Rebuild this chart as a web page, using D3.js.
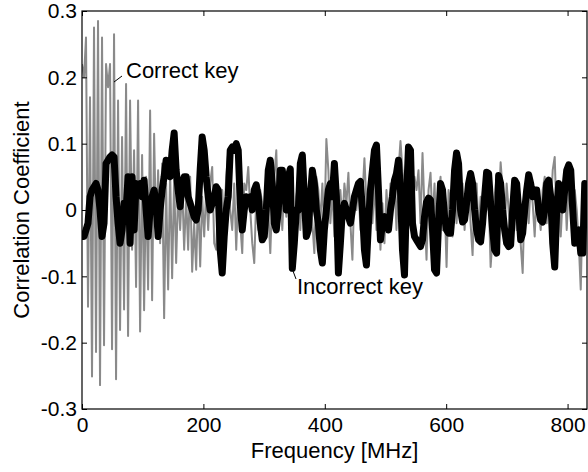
<!DOCTYPE html>
<html>
<head>
<meta charset="utf-8">
<script src="https://cdn.jsdelivr.net/npm/d3@7"></script>
<style>
body { margin:0 ; background:#fff ; }
svg text { font-family: "Liberation Sans", Arial, Helvetica, sans-serif ; fill:#000 ; }
</style>
</head>
<body>
<svg id="chart" width="588" height="472"></svg>
<script>

// sampling grid of the spectrum, in MHz
const freqStep = 3.3 ;

const xTicks = [ 0, 200, 400, 600, 800 ] ;
const yTicks = [ -0.3, -0.2, -0.1, 0, 0.1, 0.2, 0.3 ] ;
const yTickLabels = [ "-0.3", "-0.2", "-0.1", "0", "0.1", "0.2", "0.3" ] ;

// gray trace
const correctKey = [
	0.22, 0.20, 0.26, -0.146, 0.17, -0.251, 0.275, -0.214, 0.285, -0.264,
	0.26, -0.204, 0.22, 0.185, 0.22, -0.21, 0.265, -0.255, 0.165, -0.181,
	0.11, -0.15, 0.19, -0.19, 0.165, -0.06, 0.09, -0.116, 0.165, -0.183,
	0.083, -0.151, 0.05, -0.12, 0.15, -0.136, 0.115, -0.04, 0.06, -0.05,
	0.07, -0.163, 0.04, -0.12, 0.06, -0.103, 0.05, -0.08, 0.03, -0.03,
	0.04, -0.06, 0.02, -0.06, 0.05, -0.093, -0.02, -0.09, 0.03, -0.085,
	0.02, -0.04, 0.03, -0.03, 0.04, 0.065, -0.05, -0.06, 0.02, -0.03,
	0.03, -0.02, 0.05, 0.086, 0.0, -0.03, 0.04, -0.06, 0.03, -0.02,
	-0.065, 0.04, 0.03, 0.065, 0.0, -0.05, -0.08, 0.02, -0.03, 0.03,
	0.01, -0.04, 0.03, 0.0, -0.065, 0.02, 0.05, 0.09, -0.02, 0.03,
	-0.03, 0.04, -0.01, 0.05, -0.02, 0.03, -0.05, 0.02, 0.04, -0.03,
	0.05, 0.0, -0.04, 0.03, 0.02, -0.02, -0.065, 0.05, 0.03, -0.02,
	0.04, -0.03, 0.107, 0.06, -0.02, 0.03, -0.04, 0.02, -0.06, 0.03,
	-0.02, 0.04, 0.01, 0.056, -0.02, -0.075, 0.03, 0.0, 0.04, -0.03,
	0.02, 0.078, 0.01, -0.04, 0.03, -0.02, 0.04, -0.03, 0.02, -0.06,
	0.01, -0.05, 0.03, -0.02, 0.04, 0.0, 0.05, -0.03, 0.06, 0.104,
	0.06, 0.03, 0.07, 0.04, 0.06, 0.02, 0.05, 0.03, 0.06, -0.02,
	0.086, 0.0, -0.075, 0.03, 0.056, -0.02, 0.04, -0.05, 0.02, 0.05,
	-0.03, 0.02, -0.086, 0.03, 0.01, -0.04, 0.05, -0.02, 0.03, 0.0,
	0.04, -0.03, 0.02, 0.05, -0.02, -0.068, 0.03, 0.04, -0.03, 0.02,
	-0.02, 0.04, 0.0, 0.03, -0.086, -0.04, 0.02, 0.05, 0.0, 0.072,
	0.03, -0.03, 0.04, 0.0, -0.04, 0.03, 0.02, -0.03, 0.04, -0.05,
	-0.095, 0.02, 0.03, -0.02, 0.04, 0.01, -0.04, 0.03, 0.0, -0.03,
	0.03, 0.05, -0.02, 0.04, 0.0, 0.06, 0.08, -0.02, 0.03, -0.04,
	0.02, 0.05, -0.03, 0.04, 0.01, -0.04, 0.03, 0.0, -0.05, -0.12,
	0.02, -0.04
] ;

// thick black trace
const incorrectKey = [
	-0.04, -0.04, -0.03, -0.02, 0.02, 0.03, 0.035, 0.04, 0.03, 0.0,
	-0.04, -0.02, 0.07, 0.075, 0.08, 0.083, 0.08, 0.02, -0.02, -0.05,
	-0.03, 0.01, 0.0, 0.05, -0.05, 0.05, -0.03, 0.04, 0.03, 0.04,
	0.02, 0.045, 0.0, -0.04, 0.0, 0.02, 0.03, 0.01, -0.04, 0.0,
	0.03, 0.05, 0.075, 0.07, 0.05, 0.09, 0.116, 0.06, 0.03, 0.005,
	0.04, 0.05, 0.05, 0.02, 0.01, 0.0, -0.01, -0.015, 0.0, 0.06,
	0.11, 0.09, 0.05, 0.02, 0.0, 0.01, 0.02, 0.035, 0.03, -0.06,
	-0.095, -0.04, 0.0, 0.02, 0.09, 0.095, 0.09, 0.1, 0.09, 0.01,
	-0.03, 0.0, 0.02, 0.01, 0.02, 0.0, 0.03, 0.038, 0.02, -0.02,
	-0.045, -0.04, 0.0, 0.06, 0.075, 0.04, -0.02, -0.03, 0.0, 0.06,
	0.06, 0.03, 0.0, 0.05, 0.062, -0.088, -0.05, 0.0, 0.0, 0.07,
	0.083, 0.02, -0.04, -0.03, 0.02, 0.06, 0.04, 0.0, -0.02, -0.06,
	-0.08, -0.03, 0.0, 0.03, 0.04, 0.02, 0.07, 0.02, -0.095, -0.05,
	0.0, 0.01, 0.0, -0.01, -0.02, 0.0, 0.02, 0.03, 0.04, 0.043,
	0.0, -0.06, -0.083, -0.02, 0.03, 0.06, 0.09, 0.098, 0.03, -0.045,
	-0.02, -0.01, -0.02, -0.03, 0.0, 0.02, 0.045, 0.055, 0.075, 0.03,
	-0.06, -0.098, 0.02, 0.095, 0.09, -0.02, -0.04, -0.045, -0.05, -0.055,
	-0.045, -0.01, 0.012, 0.018, 0.015, -0.03, -0.09, -0.095, -0.02, 0.04,
	0.03, -0.01, -0.03, -0.035, -0.035, 0.0, 0.06, 0.086, 0.07, 0.0,
	-0.018, -0.015, 0.01, 0.04, 0.055, 0.04, 0.0, -0.03, -0.045, -0.048,
	-0.02, 0.02, 0.057, 0.055, 0.01, -0.03, -0.06, -0.065, 0.052, 0.04,
	0.0, -0.03, -0.05, -0.055, -0.053, 0.0, 0.045, 0.04, 0.0, -0.045,
	-0.035, 0.0, 0.03, 0.053, 0.04, 0.02, 0.03, 0.03, 0.0, -0.015,
	-0.018, 0.0, 0.04, 0.045, 0.02, -0.05, -0.086, 0.0, 0.04, 0.03,
	0.0, 0.03, 0.06, 0.068, 0.06, 0.0, -0.05, -0.04, -0.03, -0.065,
	-0.065, 0.04
] ;


const svg = d3.select( "#chart" ) ;

const plotLeft = 82, plotRight = 587, plotTop = 11, plotBottom = 409 ;

const x = d3.scaleLinear().domain( [ 0, 832 ] ).range( [ plotLeft, plotRight ] ) ;
const y = d3.scaleLinear().domain( [ -0.3, 0.3 ] ).range( [ plotBottom, plotTop ] ) ;

svg.append( "defs" ).append( "clipPath" )
	.attr( "id", "plot-clip" )
	.append( "rect" )
	.attr( "x", plotLeft ).attr( "y", plotTop )
	.attr( "width", plotRight-plotLeft ).attr( "height", plotBottom-plotTop ) ;

const line = d3.line()
	.x( function(d,i) { return x( i*freqStep ) ; } )
	.y( function(d) { return y( d ) ; } ) ;

const plot = svg.append( "g" ).attr( "clip-path", "url(#plot-clip)" ) ;

plot.append( "path" )
	.datum( correctKey )
	.attr( "d", line )
	.attr( "fill", "none" )
	.attr( "stroke", "#8a8a8a" )
	.attr( "stroke-width", 2 )
	.attr( "stroke-linejoin", "round" ) ;

plot.append( "path" )
	.datum( incorrectKey )
	.attr( "d", line )
	.attr( "fill", "none" )
	.attr( "stroke", "#000" )
	.attr( "stroke-width", 7 )
	.attr( "stroke-linejoin", "round" )
	.attr( "stroke-linecap", "round" ) ;

/*
	axes - ticks point inwards on all four sides,
	labels only on bottom and left
*/
function styleAxis( g ) {
	g.select( ".domain" ).remove() ;
	g.selectAll( "line" ).attr( "stroke", "#000" ) ;
	g.selectAll( "text" )
		.attr( "fill", "#000" )
		.style( "font-size", "21px" )
		.style( "font-family", "\"Liberation Sans\", Arial, sans-serif" ) ;
}

svg.append( "g" )
	.attr( "transform", "translate(0," + plotBottom + ")" )
	.call( d3.axisBottom( x ).tickValues( xTicks ).tickSize( -5 ).tickPadding( 8 ).tickFormat( d3.format( "d" ) ) )
	.call( styleAxis ) ;

svg.append( "g" )
	.attr( "transform", "translate(0," + plotTop + ")" )
	.call( d3.axisTop( x ).tickValues( xTicks ).tickSize( -5 ).tickFormat( "" ) )
	.call( styleAxis ) ;

svg.append( "g" )
	.attr( "transform", "translate(" + plotLeft + ",0)" )
	.call( d3.axisLeft( y ).tickValues( yTicks ).tickSize( -5 ).tickPadding( 5 )
		.tickFormat( function(d) { return yTickLabels[ yTicks.indexOf( d ) ] ; } ) )
	.call( styleAxis ) ;

svg.append( "g" )
	.attr( "transform", "translate(" + plotRight + ",0)" )
	.call( d3.axisRight( y ).tickValues( yTicks ).tickSize( -5 ).tickFormat( "" ) )
	.call( styleAxis ) ;

// frame
svg.append( "rect" )
	.attr( "x", plotLeft ).attr( "y", plotTop )
	.attr( "width", plotRight-plotLeft ).attr( "height", plotBottom-plotTop )
	.attr( "fill", "none" )
	.attr( "stroke", "#000" )
	.attr( "stroke-width", 1.2 ) ;

// axis titles
svg.append( "text" )
	.attr( "x", (plotLeft+plotRight)/2 )
	.attr( "y", 458 )
	.attr( "text-anchor", "middle" )
	.style( "font-size", "22px" )
	.text( "Frequency [MHz]" ) ;

svg.append( "text" )
	.attr( "transform", "translate(29," + ((plotTop+plotBottom)/2) + ") rotate(-90)" )
	.attr( "text-anchor", "middle" )
	.style( "font-size", "22px" )
	.text( "Correlation Coefficient" ) ;

// annotations with short leader lines
svg.append( "line" )
	.attr( "x1", 114 ).attr( "y1", 82 ).attr( "x2", 122 ).attr( "y2", 76 )
	.attr( "stroke", "#000" ).attr( "stroke-width", 1 ) ;
svg.append( "text" )
	.attr( "x", 126 ).attr( "y", 78 )
	.style( "font-size", "22px" )
	.text( "Correct key" ) ;

svg.append( "line" )
	.attr( "x1", 293 ).attr( "y1", 271 ).attr( "x2", 296 ).attr( "y2", 279 )
	.attr( "stroke", "#000" ).attr( "stroke-width", 1 ) ;
svg.append( "text" )
	.attr( "x", 297 ).attr( "y", 294 )
	.style( "font-size", "22px" )
	.text( "Incorrect key" ) ;

</script>
</body>
</html>
